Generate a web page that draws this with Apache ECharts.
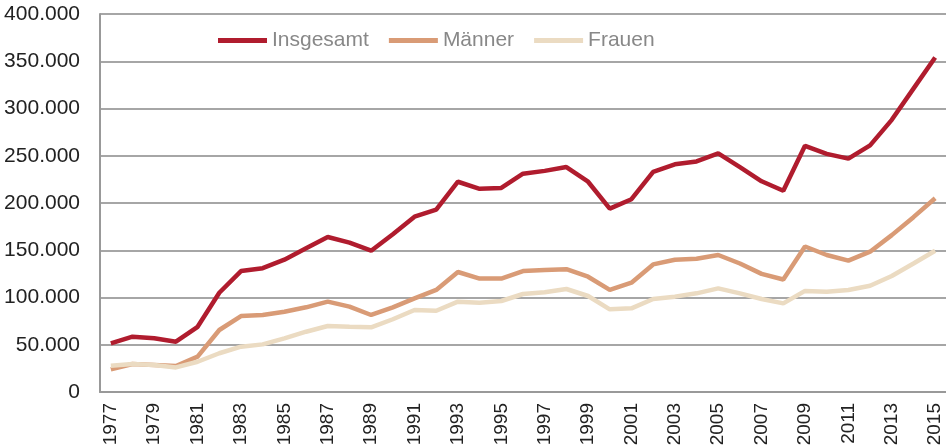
<!DOCTYPE html>
<html>
<head>
<meta charset="utf-8">
<script src="https://cdn.jsdelivr.net/npm/echarts@6/dist/echarts.min.js"></script>
<style>
  html, body { margin: 0; padding: 0; background: #fff; }
  #chart { width: 946px; height: 445px; }
</style>
</head>
<body>
<div id="chart"></div>
<script>
const years = [];
for (let y = 1977; y <= 2015; y++) years.push(String(y));

const insgesamt = [51500, 58500, 56800, 53200, 69000, 105000, 128000, 131000, 140000, 152000,
  164000, 158000, 149500, 167000, 185500, 193000, 222500, 215000, 216000, 231000,
  234000, 238000, 222500, 194000, 204000, 233000, 241000, 244000, 252500, 238000,
  223000, 213000, 260500, 252000, 247000, 261000, 288000, 321000, 354000];
const maenner = [24000, 29600, 28600, 27500, 37400, 65600, 80400, 81500, 85000, 89600,
  95600, 90300, 81500, 89600, 99000, 108000, 127000, 120000, 120000, 128000,
  129000, 130000, 122000, 108000, 115700, 135000, 140000, 141000, 145000, 136000,
  125000, 119000, 154000, 145000, 139000, 148500, 166000, 185000, 205000];
const frauen = [27900, 29600, 28600, 26000, 32000, 41000, 48000, 50400, 56800, 63800,
  69800, 69000, 68500, 77000, 86800, 86000, 95600, 94500, 96300, 103700,
  105500, 109000, 101600, 87500, 88500, 98400, 100900, 104400, 109700, 104400,
  98400, 93800, 107000, 106000, 108000, 112500, 122800, 136000, 149500];

const seriesNames = ['Insgesamt', 'Männer', 'Frauen'];
const seriesColors = ['#b01c2e', '#d99b76', '#ebdbc2'];

const formatDe = (v) => String(v).replace(/\B(?=(\d{3})+(?!\d))/g, '.');

const chart = echarts.init(document.getElementById('chart'));

const makeLine = (name, data, color) => ({
  name,
  type: 'line',
  data,
  symbol: 'none',
  smooth: false,
  lineStyle: { width: 4.5, color },
  itemStyle: { color }
});

chart.setOption({
  animation: false,
  textStyle: { fontFamily: 'Liberation Sans, Arial, sans-serif' },
  legend: {
    left: 213,
    top: 25,
    itemWidth: 49,
    itemHeight: 16,
    itemGap: 20,
    data: seriesNames.map((n) => ({ name: n, icon: 'path://M0,0 L49,0 L49,5 L0,5 Z' })),
    textStyle: { fontSize: 21, color: '#888888', padding: [0, 0, 0, 0] }
  },
  grid: { left: 100, right: 0, top: 14, bottom: 53, outerBoundsMode: 'none', containLabel: false },
  xAxis: {
    type: 'category',
    data: years,
    boundaryGap: true,
    axisLine: { lineStyle: { color: '#999', width: 2 } },
    axisTick: { show: false },
    axisLabel: {
      rotate: 90,
      interval: 1,
      fontSize: 19,
      color: '#222',
      margin: 11
    },
    splitLine: { show: false }
  },
  yAxis: {
    type: 'value',
    min: 0,
    max: 400000,
    interval: 50000,
    axisLine: { show: true, lineStyle: { color: '#999', width: 2 } },
    axisTick: { show: false },
    axisLabel: {
      fontSize: 21,
      color: '#222',
      margin: 20,
      formatter: (v) => formatDe(v)
    },
    splitLine: { lineStyle: { color: '#a6a6a6', width: 2 } }
  },
  series: [
    makeLine(seriesNames[0], insgesamt, seriesColors[0]),
    makeLine(seriesNames[1], maenner, seriesColors[1]),
    makeLine(seriesNames[2], frauen, seriesColors[2])
  ]
});
</script>
</body>
</html>
